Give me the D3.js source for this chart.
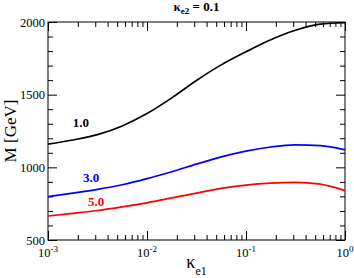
<!DOCTYPE html>
<html>
<head>
<meta charset="utf-8">
<script src="https://cdn.jsdelivr.net/npm/d3@7"></script>
<style>
    body { margin: 0; background: white; }
    svg { display: block; }
    text { font-family: "Liberation Serif", "DejaVu Serif", "Times New Roman", serif; fill: black; }
</style>
</head>
<body>
<svg id="chart" width="354" height="278"></svg>
<script>
// kappa_e1 sample points (log-spaced)
const kappaE1 = [0.001, 0.00178, 0.00316, 0.00562, 0.01, 0.0178, 0.0316, 0.0562, 0.1, 0.178, 0.316, 0.562, 1];

// M [GeV] for each curve
const mass10 = [1160, 1188, 1225, 1285, 1370, 1478, 1598, 1705, 1795, 1878, 1943, 1985, 1995];
const mass30 = [798, 822, 848, 880, 922, 970, 1022, 1072, 1112, 1140, 1154, 1150, 1120];
const mass50 = [665, 683, 703, 728, 756, 790, 822, 855, 878, 892, 897, 884, 840];

const seriesNames = ["1.0", "3.0", "5.0"];
const seriesColors = ["#000000", "#0000ff", "#ff0000"];

const xMajor = [0.001, 0.01, 0.1, 1];
const xMajorExp = ["-3", "-2", "-1", "0"];
const yMajor = [500, 1000, 1500, 2000];

const svg = d3.select("#chart");
const mLeft = 48, mRight = 345, mTop = 22, mBottom = 240;

const x = d3.scaleLog().domain([0.001, 1]).range([mLeft, mRight]);
const y = d3.scaleLinear().domain([500, 2000]).range([mBottom, mTop]);

// minor ticks
const xMinor = [];
[0.001, 0.01, 0.1].forEach(d => {
    for (let k = 2; k <= 9; k++) xMinor.push(d * k);
});
const yMinor = d3.range(500, 2001, 100).filter(v => yMajor.indexOf(v) < 0);

function tickAxis(axis, pos, len, values) {
    const g = svg.append("g")
        .attr("transform", pos)
        .call(axis.tickValues(values).tickSize(len).tickFormat(""));
    g.select(".domain").remove();
    g.selectAll("line").attr("stroke", "#000").attr("stroke-width", 1);
    return g;
}

tickAxis(d3.axisBottom(x), `translate(0,${mBottom})`, -5, xMinor);
tickAxis(d3.axisBottom(x), `translate(0,${mBottom})`, -9, xMajor);
tickAxis(d3.axisTop(x), `translate(0,${mTop})`, -5, xMinor);
tickAxis(d3.axisTop(x), `translate(0,${mTop})`, -9, xMajor);
tickAxis(d3.axisLeft(y), `translate(${mLeft},0)`, -5, yMinor);
tickAxis(d3.axisLeft(y), `translate(${mLeft},0)`, -9, yMajor);
tickAxis(d3.axisRight(y), `translate(${mRight},0)`, -5, yMinor);
tickAxis(d3.axisRight(y), `translate(${mRight},0)`, -9, yMajor);

// frame
svg.append("rect")
    .attr("x", mLeft).attr("y", mTop)
    .attr("width", mRight - mLeft).attr("height", mBottom - mTop)
    .attr("fill", "none").attr("stroke", "#000").attr("stroke-width", 1);

// y tick labels
svg.append("g").selectAll("text")
    .data(yMajor)
    .enter().append("text")
    .attr("x", mLeft - 3)
    .attr("y", d => y(d) + 4.5)
    .attr("text-anchor", "end")
    .attr("font-size", "12.5px")
    .text(d => d);

// x tick labels 10^n
const xl = svg.append("g").selectAll("text")
    .data(xMajor)
    .enter().append("text")
    .attr("x", d => x(d))
    .attr("y", 257)
    .attr("text-anchor", "middle")
    .attr("font-size", "12.5px");
xl.append("tspan").text("10");
xl.append("tspan")
    .attr("dy", -5)
    .attr("font-size", "9px")
    .text((d, i) => xMajorExp[i]);

// curves
const line = d3.line()
    .x(d => x(d[0]))
    .y(d => y(d[1]))
    .curve(d3.curveMonotoneX);

[mass10, mass30, mass50].forEach((m, i) => {
    svg.append("path")
        .datum(kappaE1.map((k, j) => [k, m[j]]))
        .attr("fill", "none")
        .attr("stroke", seriesColors[i])
        .attr("stroke-width", 1.7)
        .attr("d", line);
});

// curve labels
const labelPos = [[0.00178, 1277], [0.00226, 899], [0.00254, 734]];
svg.append("g").selectAll("text")
    .data(seriesNames)
    .enter().append("text")
    .attr("x", (d, i) => x(labelPos[i][0]))
    .attr("y", (d, i) => y(labelPos[i][1]))
    .attr("font-size", "13px")
    .attr("font-weight", "bold")
    .style("fill", (d, i) => seriesColors[i])
    .text(d => d);

// title
const title = svg.append("text")
    .attr("x", (mLeft + mRight) / 2)
    .attr("y", 11)
    .attr("text-anchor", "middle")
    .attr("font-size", "13px")
    .attr("font-weight", "bold");
title.append("tspan").text("κ");
title.append("tspan").attr("dy", 3).attr("font-size", "9px").text("e2");
title.append("tspan").attr("dy", -3).text(" = 0.1");

// x axis label
const xLabel = svg.append("text")
    .attr("x", (mLeft + mRight) / 2)
    .attr("y", 268)
    .attr("text-anchor", "middle")
    .attr("font-size", "18px");
xLabel.append("tspan").text("κ");
xLabel.append("tspan").attr("dy", 7).attr("font-size", "12px").text("e1");

// y axis label
svg.append("text")
    .attr("transform", "translate(16,131) rotate(-90)")
    .attr("text-anchor", "middle")
    .attr("font-size", "17px")
    .text("M [GeV]");
</script>
</body>
</html>
